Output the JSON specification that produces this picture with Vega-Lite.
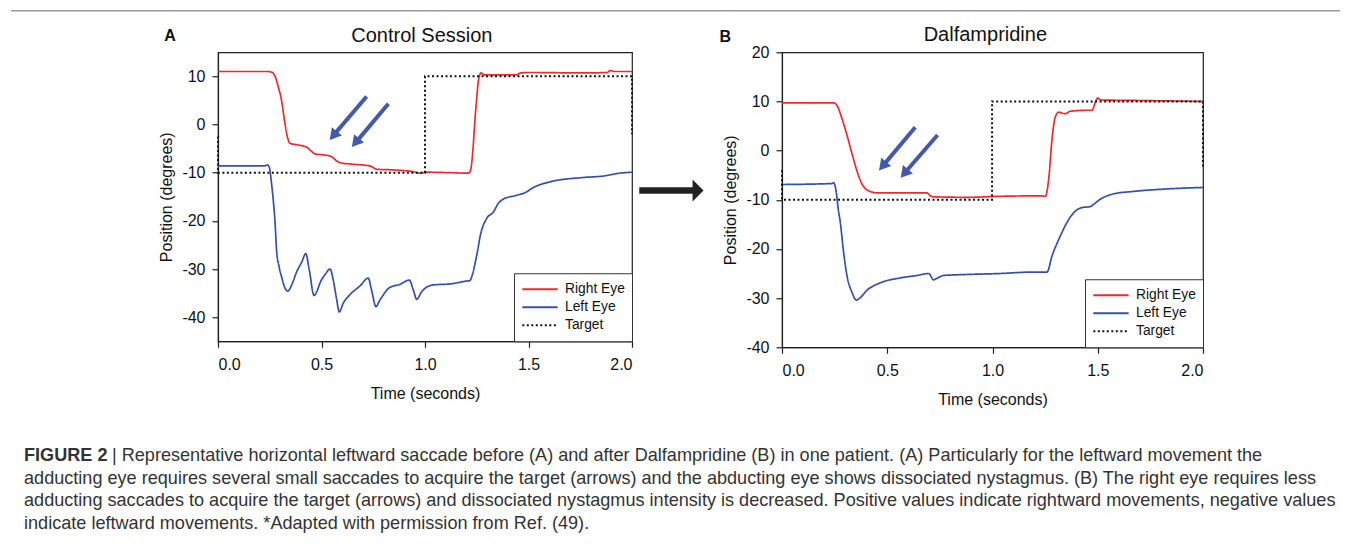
{
  "$schema": "https://vega.github.io/schema/vega-lite/v6.json",
  "background": "white",
  "padding": {"left": 9, "top": 9.25, "right": 0, "bottom": 5},
  "bounds": "flush",
  "spacing": 404,
  "datasets": {
    "lines": [
      {"p":"A","s":"Right Eye","t":0,"v":11},{"p":"A","s":"Right Eye","t":0.243,"v":11},{"p":"A","s":"Right Eye","t":0.262,"v":10.8},{"p":"A","s":"Right Eye","t":0.275,"v":10.1},{"p":"A","s":"Right Eye","t":0.29,"v":8},{"p":"A","s":"Right Eye","t":0.307,"v":5.0},{"p":"A","s":"Right Eye","t":0.32,"v":1.2},{"p":"A","s":"Right Eye","t":0.332,"v":-1.9},{"p":"A","s":"Right Eye","t":0.348,"v":-3.9},{"p":"A","s":"Right Eye","t":0.38,"v":-4.2},{"p":"A","s":"Right Eye","t":0.428,"v":-4.7},{"p":"A","s":"Right Eye","t":0.45,"v":-5.5},{"p":"A","s":"Right Eye","t":0.469,"v":-6.1},{"p":"A","s":"Right Eye","t":0.509,"v":-6.3},{"p":"A","s":"Right Eye","t":0.545,"v":-6.6},{"p":"A","s":"Right Eye","t":0.575,"v":-7.6},{"p":"A","s":"Right Eye","t":0.597,"v":-8.0},{"p":"A","s":"Right Eye","t":0.638,"v":-8.2},{"p":"A","s":"Right Eye","t":0.734,"v":-8.6},{"p":"A","s":"Right Eye","t":0.767,"v":-9.3},{"p":"A","s":"Right Eye","t":0.831,"v":-9.4},{"p":"A","s":"Right Eye","t":0.944,"v":-9.8},{"p":"A","s":"Right Eye","t":0.976,"v":-10.1},{"p":"A","s":"Right Eye","t":1.008,"v":-9.9},{"p":"A","s":"Right Eye","t":1.12,"v":-10.0},{"p":"A","s":"Right Eye","t":1.21,"v":-10.1},{"p":"A","s":"Right Eye","t":1.22,"v":-9.5},{"p":"A","s":"Right Eye","t":1.232,"v":-5},{"p":"A","s":"Right Eye","t":1.241,"v":0.8},{"p":"A","s":"Right Eye","t":1.25,"v":5.5},{"p":"A","s":"Right Eye","t":1.258,"v":9.1},{"p":"A","s":"Right Eye","t":1.271,"v":10.7},{"p":"A","s":"Right Eye","t":1.287,"v":10.3},{"p":"A","s":"Right Eye","t":1.443,"v":10.3},{"p":"A","s":"Right Eye","t":1.46,"v":10.7},{"p":"A","s":"Right Eye","t":1.507,"v":10.8},{"p":"A","s":"Right Eye","t":1.765,"v":10.7},{"p":"A","s":"Right Eye","t":1.88,"v":10.8},{"p":"A","s":"Right Eye","t":1.894,"v":11.2},{"p":"A","s":"Right Eye","t":1.918,"v":11.0},{"p":"A","s":"Right Eye","t":2.0,"v":11.0},
      {"p":"A","s":"Left Eye","t":0,"v":-8.6},{"p":"A","s":"Left Eye","t":0.225,"v":-8.6},{"p":"A","s":"Left Eye","t":0.238,"v":-8.4},{"p":"A","s":"Left Eye","t":0.248,"v":-8.9},{"p":"A","s":"Left Eye","t":0.258,"v":-12},{"p":"A","s":"Left Eye","t":0.267,"v":-15.7},{"p":"A","s":"Left Eye","t":0.275,"v":-19.9},{"p":"A","s":"Left Eye","t":0.283,"v":-26.1},{"p":"A","s":"Left Eye","t":0.295,"v":-29.5},{"p":"A","s":"Left Eye","t":0.307,"v":-31.6},{"p":"A","s":"Left Eye","t":0.322,"v":-33.8},{"p":"A","s":"Left Eye","t":0.337,"v":-34.6},{"p":"A","s":"Left Eye","t":0.356,"v":-33.3},{"p":"A","s":"Left Eye","t":0.38,"v":-30.6},{"p":"A","s":"Left Eye","t":0.405,"v":-28.5},{"p":"A","s":"Left Eye","t":0.424,"v":-26.8},{"p":"A","s":"Left Eye","t":0.441,"v":-30.2},{"p":"A","s":"Left Eye","t":0.464,"v":-35.5},{"p":"A","s":"Left Eye","t":0.477,"v":-34.7},{"p":"A","s":"Left Eye","t":0.496,"v":-32.6},{"p":"A","s":"Left Eye","t":0.52,"v":-31.0},{"p":"A","s":"Left Eye","t":0.541,"v":-30.0},{"p":"A","s":"Left Eye","t":0.557,"v":-32.3},{"p":"A","s":"Left Eye","t":0.572,"v":-36},{"p":"A","s":"Left Eye","t":0.586,"v":-38.9},{"p":"A","s":"Left Eye","t":0.605,"v":-37.1},{"p":"A","s":"Left Eye","t":0.638,"v":-35.3},{"p":"A","s":"Left Eye","t":0.686,"v":-33.5},{"p":"A","s":"Left Eye","t":0.726,"v":-31.9},{"p":"A","s":"Left Eye","t":0.742,"v":-34.4},{"p":"A","s":"Left Eye","t":0.763,"v":-37.8},{"p":"A","s":"Left Eye","t":0.783,"v":-36.4},{"p":"A","s":"Left Eye","t":0.831,"v":-33.8},{"p":"A","s":"Left Eye","t":0.879,"v":-33.2},{"p":"A","s":"Left Eye","t":0.924,"v":-32.3},{"p":"A","s":"Left Eye","t":0.944,"v":-34.4},{"p":"A","s":"Left Eye","t":0.96,"v":-36.3},{"p":"A","s":"Left Eye","t":0.984,"v":-34.7},{"p":"A","s":"Left Eye","t":1.04,"v":-33.3},{"p":"A","s":"Left Eye","t":1.121,"v":-33.1},{"p":"A","s":"Left Eye","t":1.201,"v":-32.5},{"p":"A","s":"Left Eye","t":1.217,"v":-32.4},{"p":"A","s":"Left Eye","t":1.23,"v":-31},{"p":"A","s":"Left Eye","t":1.242,"v":-28.8},{"p":"A","s":"Left Eye","t":1.255,"v":-26},{"p":"A","s":"Left Eye","t":1.266,"v":-23.3},{"p":"A","s":"Left Eye","t":1.298,"v":-19.5},{"p":"A","s":"Left Eye","t":1.33,"v":-18.2},{"p":"A","s":"Left Eye","t":1.354,"v":-16.4},{"p":"A","s":"Left Eye","t":1.378,"v":-15.5},{"p":"A","s":"Left Eye","t":1.443,"v":-14.7},{"p":"A","s":"Left Eye","t":1.491,"v":-14.0},{"p":"A","s":"Left Eye","t":1.515,"v":-13.3},{"p":"A","s":"Left Eye","t":1.604,"v":-11.9},{"p":"A","s":"Left Eye","t":1.765,"v":-11.0},{"p":"A","s":"Left Eye","t":1.861,"v":-10.7},{"p":"A","s":"Left Eye","t":1.942,"v":-10.1},{"p":"A","s":"Left Eye","t":2.0,"v":-9.9},
      {"p":"A","s":"Target","t":0,"v":-2.5},{"p":"A","s":"Target","t":0,"v":-10},{"p":"A","s":"Target","t":1.0,"v":-10},{"p":"A","s":"Target","t":1.0,"v":10},{"p":"A","s":"Target","t":2.0,"v":10},{"p":"A","s":"Target","t":2.0,"v":-2},
      {"p":"B","s":"Right Eye","t":0,"v":9.7},{"p":"B","s":"Right Eye","t":0.245,"v":9.7},{"p":"B","s":"Right Eye","t":0.261,"v":9.2},{"p":"B","s":"Right Eye","t":0.285,"v":6.5},{"p":"B","s":"Right Eye","t":0.309,"v":3.1},{"p":"B","s":"Right Eye","t":0.333,"v":-0.7},{"p":"B","s":"Right Eye","t":0.356,"v":-4.1},{"p":"B","s":"Right Eye","t":0.38,"v":-6.8},{"p":"B","s":"Right Eye","t":0.404,"v":-8.0},{"p":"B","s":"Right Eye","t":0.451,"v":-8.6},{"p":"B","s":"Right Eye","t":0.562,"v":-8.6},{"p":"B","s":"Right Eye","t":0.689,"v":-8.6},{"p":"B","s":"Right Eye","t":0.705,"v":-9.2},{"p":"B","s":"Right Eye","t":0.72,"v":-9.4},{"p":"B","s":"Right Eye","t":0.879,"v":-9.5},{"p":"B","s":"Right Eye","t":1.037,"v":-9.3},{"p":"B","s":"Right Eye","t":1.235,"v":-9.2},{"p":"B","s":"Right Eye","t":1.251,"v":-9.3},{"p":"B","s":"Right Eye","t":1.267,"v":-5.8},{"p":"B","s":"Right Eye","t":1.283,"v":2.4},{"p":"B","s":"Right Eye","t":1.298,"v":6.8},{"p":"B","s":"Right Eye","t":1.314,"v":7.8},{"p":"B","s":"Right Eye","t":1.346,"v":7.5},{"p":"B","s":"Right Eye","t":1.37,"v":8.0},{"p":"B","s":"Right Eye","t":1.449,"v":8.2},{"p":"B","s":"Right Eye","t":1.473,"v":8.2},{"p":"B","s":"Right Eye","t":1.489,"v":9.9},{"p":"B","s":"Right Eye","t":1.5,"v":10.7},{"p":"B","s":"Right Eye","t":1.512,"v":10.3},{"p":"B","s":"Right Eye","t":1.671,"v":10.2},{"p":"B","s":"Right Eye","t":2.0,"v":10.0},
      {"p":"B","s":"Left Eye","t":0,"v":-6.9},{"p":"B","s":"Left Eye","t":0.238,"v":-6.7},{"p":"B","s":"Left Eye","t":0.245,"v":-6.5},{"p":"B","s":"Left Eye","t":0.258,"v":-8.5},{"p":"B","s":"Left Eye","t":0.266,"v":-11.5},{"p":"B","s":"Left Eye","t":0.277,"v":-14.6},{"p":"B","s":"Left Eye","t":0.293,"v":-20.8},{"p":"B","s":"Left Eye","t":0.309,"v":-25.5},{"p":"B","s":"Left Eye","t":0.333,"v":-28.9},{"p":"B","s":"Left Eye","t":0.353,"v":-30.4},{"p":"B","s":"Left Eye","t":0.372,"v":-29.9},{"p":"B","s":"Left Eye","t":0.404,"v":-28.4},{"p":"B","s":"Left Eye","t":0.467,"v":-26.9},{"p":"B","s":"Left Eye","t":0.562,"v":-25.9},{"p":"B","s":"Left Eye","t":0.641,"v":-25.4},{"p":"B","s":"Left Eye","t":0.697,"v":-25.0},{"p":"B","s":"Left Eye","t":0.72,"v":-26.3},{"p":"B","s":"Left Eye","t":0.739,"v":-25.9},{"p":"B","s":"Left Eye","t":0.768,"v":-25.4},{"p":"B","s":"Left Eye","t":0.879,"v":-25.2},{"p":"B","s":"Left Eye","t":1.037,"v":-25.0},{"p":"B","s":"Left Eye","t":1.196,"v":-24.7},{"p":"B","s":"Left Eye","t":1.259,"v":-24.7},{"p":"B","s":"Left Eye","t":1.283,"v":-21.4},{"p":"B","s":"Left Eye","t":1.322,"v":-17.4},{"p":"B","s":"Left Eye","t":1.354,"v":-14.6},{"p":"B","s":"Left Eye","t":1.394,"v":-12.3},{"p":"B","s":"Left Eye","t":1.425,"v":-11.6},{"p":"B","s":"Left Eye","t":1.465,"v":-11.4},{"p":"B","s":"Left Eye","t":1.481,"v":-10.9},{"p":"B","s":"Left Eye","t":1.512,"v":-9.9},{"p":"B","s":"Left Eye","t":1.576,"v":-8.8},{"p":"B","s":"Left Eye","t":1.671,"v":-8.3},{"p":"B","s":"Left Eye","t":1.829,"v":-7.8},{"p":"B","s":"Left Eye","t":2.0,"v":-7.5},
      {"p":"B","s":"Target","t":0,"v":-4},{"p":"B","s":"Target","t":0,"v":-10},{"p":"B","s":"Target","t":0.998,"v":-10},{"p":"B","s":"Target","t":0.998,"v":10},{"p":"B","s":"Target","t":2.0,"v":10},{"p":"B","s":"Target","t":2.0,"v":-3.7}
    ],
    "arrows": [
      {"p":"A","t":0.718,"v":5.8,"t2":0.566,"v2":-1.84,"ht":0.557,"hv":-2.32},
      {"p":"A","t":0.823,"v":4.3,"t2":0.674,"v2":-3.29,"ht":0.664,"hv":-3.77},
      {"p":"B","t":0.633,"v":4.76,"t2":0.487,"v2":-2.71,"ht":0.478,"hv":-3.18},
      {"p":"B","t":0.739,"v":3.18,"t2":0.590,"v2":-4.2,"ht":0.581,"hv":-4.67}
    ],
    "between": [
      {"t":2.035,"v":-13.7,"t2":2.304,"ht":2.319}
    ],
    "frame": [
      {"t":-1.0,"t2":5.42,"v":23.6}
    ],
    "labels": [
      {"p":"A","kind":"letter","text":"A","t":-0.232,"v":18.4},
      {"p":"A","kind":"title","text":"Control Session","t":0.985,"v":18.4},
      {"p":"B","kind":"letter","text":"B","t":-0.269,"v":23.1},
      {"p":"B","kind":"title","text":"Dalfampridine","t":0.966,"v":23.5}
    ],
    "caption": [
      {"line":1,"w":"b","text":"FIGURE 2"},
      {"line":1,"w":"n","text":"| Representative horizontal leftward saccade before (A) and after Dalfampridine (B) in one patient. (A) Particularly for the leftward movement the"},
      {"line":2,"w":"n","text":"adducting eye requires several small saccades to acquire the target (arrows) and the abducting eye shows dissociated nystagmus. (B) The right eye requires less"},
      {"line":3,"w":"n","text":"adducting saccades to acquire the target (arrows) and dissociated nystagmus intensity is decreased. Positive values indicate rightward movements, negative values"},
      {"line":4,"w":"n","text":"indicate leftward movements. *Adapted with permission from Ref. (49)."}
    ]
  },
  "config": {
    "font": "Liberation Sans",
    "view": {"stroke": "#222", "strokeWidth": 1.2},
    "axis": {
      "labelFont": "Liberation Sans", "labelFontSize": 16, "labelColor": "#111",
      "titleFont": "Liberation Sans", "titleFontSize": 16, "titleFontWeight": "normal", "titleColor": "#111",
      "domainColor": "#222", "domainWidth": 1.2, "tickColor": "#222", "tickWidth": 1.2, "tickSize": 6,
      "grid": false, "labelPadding": 7
    },
    "axisX": {"titlePadding": 13, "labelPadding": 9},
    "axisY": {"titlePadding": 7, "labelExpr": "'' + datum.value"},
    "legend": {
      "orient": "bottom-right", "offset": 0, "padding": 7, "strokeColor": "#333", "fillColor": "white",
      "labelFont": "Liberation Sans", "labelFontSize": 13.8, "labelColor": "#111",
      "symbolType": "stroke", "symbolSize": 1250, "symbolStrokeWidth": 1.8, "labelOffset": 6,
      "rowPadding": 0, "clipHeight": 18
    }
  },
  "vconcat": [
    {
      "bounds": "flush",
      "spacing": 150,
      "resolve": {"legend": {"color": "independent", "strokeDash": "independent"}},
      "hconcat": [
        {
          "width": 414, "height": 289,
          "layer": [
            {
              "data": {"name": "lines"},
              "transform": [{"filter": "datum.p === 'A' && datum.s !== 'Target'"}],
              "mark": {"type": "line", "strokeWidth": 1.7, "interpolate": "monotone"},
              "encoding": {
                "x": {"field": "t", "type": "quantitative", "scale": {"domain": [0, 2]}, "axis": {"values": [0, 0.5, 1, 1.5, 2], "format": ".1f", "title": "Time (seconds)"}},
                "y": {"field": "v", "type": "quantitative", "scale": {"domain": [-45, 15]}, "axis": {"values": [-40, -30, -20, -10, 0, 10], "title": "Position (degrees)"}},
                "color": {"field": "s", "type": "nominal", "scale": {"domain": ["Right Eye", "Left Eye", "Target"], "range": ["#ee2a2e", "#3550a6", "#111111"]}, "legend": {"title": null}},
                "strokeDash": {"field": "s", "type": "nominal", "scale": {"domain": ["Right Eye", "Left Eye", "Target"], "range": [[1, 0], [1, 0], [2, 2.5]]}, "legend": {"title": null}}
              }
            },
            {
              "data": {"name": "lines"},
              "transform": [{"filter": "datum.p === 'A' && datum.s === 'Target'"}],
              "mark": {"type": "line", "strokeWidth": 2},
              "encoding": {
                "x": {"field": "t", "type": "quantitative"},
                "y": {"field": "v", "type": "quantitative"},
                "color": {"field": "s", "type": "nominal"},
                "strokeDash": {"field": "s", "type": "nominal"}
              }
            },
            {
              "data": {"name": "arrows"},
              "transform": [{"filter": "datum.p === 'A'"}],
              "mark": {"type": "rule", "color": "#4459ab", "strokeWidth": 4},
              "encoding": {
                "x": {"field": "t", "type": "quantitative"}, "y": {"field": "v", "type": "quantitative"},
                "x2": {"field": "t2"}, "y2": {"field": "v2"}
              }
            },
            {
              "data": {"name": "arrows"},
              "transform": [{"filter": "datum.p === 'A'"}],
              "mark": {"type": "point", "shape": "triangle-up", "filled": true, "opacity": 1, "color": "#4459ab", "size": 170, "angle": 220},
              "encoding": {
                "x": {"field": "ht", "type": "quantitative"}, "y": {"field": "hv", "type": "quantitative"}
              }
            },
            {
              "data": {"name": "between"},
              "mark": {"type": "rule", "color": "#222", "strokeWidth": 6.5},
              "encoding": {
                "x": {"field": "t", "type": "quantitative"}, "y": {"field": "v", "type": "quantitative"},
                "x2": {"field": "t2"}
              }
            },
            {
              "data": {"name": "between"},
              "mark": {"type": "point", "shape": "M-0.5,-1L0.5,0L-0.5,1Z", "filled": true, "opacity": 1, "color": "#222", "size": 484},
              "encoding": {
                "x": {"field": "ht", "type": "quantitative"}, "y": {"field": "v", "type": "quantitative"}
              }
            },
            {
              "data": {"name": "frame"},
              "mark": {"type": "rule", "color": "#9a9a9a", "strokeWidth": 1.5},
              "encoding": {
                "x": {"field": "t", "type": "quantitative"}, "y": {"field": "v", "type": "quantitative"},
                "x2": {"field": "t2"}
              }
            },
            {
              "data": {"name": "labels"},
              "transform": [{"filter": "datum.p === 'A' && datum.kind === 'letter'"}],
              "mark": {"type": "text", "fontWeight": "bold", "fontSize": 16, "color": "#111", "baseline": "middle"},
              "encoding": {"x": {"field": "t", "type": "quantitative"}, "y": {"field": "v", "type": "quantitative"}, "text": {"field": "text"}}
            },
            {
              "data": {"name": "labels"},
              "transform": [{"filter": "datum.p === 'A' && datum.kind === 'title'"}],
              "mark": {"type": "text", "fontSize": 20, "color": "#111", "baseline": "middle"},
              "encoding": {"x": {"field": "t", "type": "quantitative"}, "y": {"field": "v", "type": "quantitative"}, "text": {"field": "text"}}
            }
          ]
        },
        {
          "width": 421, "height": 295,
          "layer": [
            {
              "data": {"name": "lines"},
              "transform": [{"filter": "datum.p === 'B' && datum.s !== 'Target'"}],
              "mark": {"type": "line", "strokeWidth": 1.7, "interpolate": "monotone"},
              "encoding": {
                "x": {"field": "t", "type": "quantitative", "scale": {"domain": [0, 2]}, "axis": {"values": [0, 0.5, 1, 1.5, 2], "format": ".1f", "title": "Time (seconds)"}},
                "y": {"field": "v", "type": "quantitative", "scale": {"domain": [-40, 20]}, "axis": {"values": [-40, -30, -20, -10, 0, 10, 20], "title": "Position (degrees)"}},
                "color": {"field": "s", "type": "nominal", "scale": {"domain": ["Right Eye", "Left Eye", "Target"], "range": ["#ee2a2e", "#3550a6", "#111111"]}, "legend": {"title": null}},
                "strokeDash": {"field": "s", "type": "nominal", "scale": {"domain": ["Right Eye", "Left Eye", "Target"], "range": [[1, 0], [1, 0], [2, 2.5]]}, "legend": {"title": null}}
              }
            },
            {
              "data": {"name": "lines"},
              "transform": [{"filter": "datum.p === 'B' && datum.s === 'Target'"}],
              "mark": {"type": "line", "strokeWidth": 2},
              "encoding": {
                "x": {"field": "t", "type": "quantitative"},
                "y": {"field": "v", "type": "quantitative"},
                "color": {"field": "s", "type": "nominal"},
                "strokeDash": {"field": "s", "type": "nominal"}
              }
            },
            {
              "data": {"name": "arrows"},
              "transform": [{"filter": "datum.p === 'B'"}],
              "mark": {"type": "rule", "color": "#4459ab", "strokeWidth": 4},
              "encoding": {
                "x": {"field": "t", "type": "quantitative"}, "y": {"field": "v", "type": "quantitative"},
                "x2": {"field": "t2"}, "y2": {"field": "v2"}
              }
            },
            {
              "data": {"name": "arrows"},
              "transform": [{"filter": "datum.p === 'B'"}],
              "mark": {"type": "point", "shape": "triangle-up", "filled": true, "opacity": 1, "color": "#4459ab", "size": 170, "angle": 220},
              "encoding": {
                "x": {"field": "ht", "type": "quantitative"}, "y": {"field": "hv", "type": "quantitative"}
              }
            },
            {
              "data": {"name": "labels"},
              "transform": [{"filter": "datum.p === 'B' && datum.kind === 'letter'"}],
              "mark": {"type": "text", "fontWeight": "bold", "fontSize": 16, "color": "#111", "baseline": "middle"},
              "encoding": {"x": {"field": "t", "type": "quantitative"}, "y": {"field": "v", "type": "quantitative"}, "text": {"field": "text"}}
            },
            {
              "data": {"name": "labels"},
              "transform": [{"filter": "datum.p === 'B' && datum.kind === 'title'"}],
              "mark": {"type": "text", "fontSize": 20, "color": "#111", "baseline": "middle"},
              "encoding": {"x": {"field": "t", "type": "quantitative"}, "y": {"field": "v", "type": "quantitative"}, "text": {"field": "text"}}
            }
          ]
        }
      ]
    },
    {
      "width": 1100, "height": 67.5,
      "view": {"stroke": null},
      "data": {"name": "caption"},
      "layer": [
        {
          "transform": [{"filter": "datum.w === 'b'"}],
          "mark": {"type": "text", "align": "left", "baseline": "middle", "font": "Liberation Sans", "fontSize": 18.1, "fontWeight": "bold", "color": "#333", "dx": -194},
          "encoding": {
            "x": {"datum": 0, "type": "quantitative", "scale": {"domain": [0, 1]}, "axis": null},
            "y": {"field": "line", "type": "quantitative", "scale": {"domain": [1, 4], "reverse": true}, "axis": null},
            "text": {"field": "text"}
          }
        },
        {
          "transform": [{"filter": "datum.w === 'n' && datum.line === 1"}],
          "mark": {"type": "text", "align": "left", "baseline": "middle", "font": "Liberation Sans", "fontSize": 18.1, "color": "#333", "dx": -106},
          "encoding": {
            "x": {"datum": 0, "type": "quantitative"},
            "y": {"field": "line", "type": "quantitative"},
            "text": {"field": "text"}
          }
        },
        {
          "transform": [{"filter": "datum.line > 1"}],
          "mark": {"type": "text", "align": "left", "baseline": "middle", "font": "Liberation Sans", "fontSize": 18.1, "color": "#333", "dx": -194},
          "encoding": {
            "x": {"datum": 0, "type": "quantitative"},
            "y": {"field": "line", "type": "quantitative"},
            "text": {"field": "text"}
          }
        }
      ]
    }
  ]
}
